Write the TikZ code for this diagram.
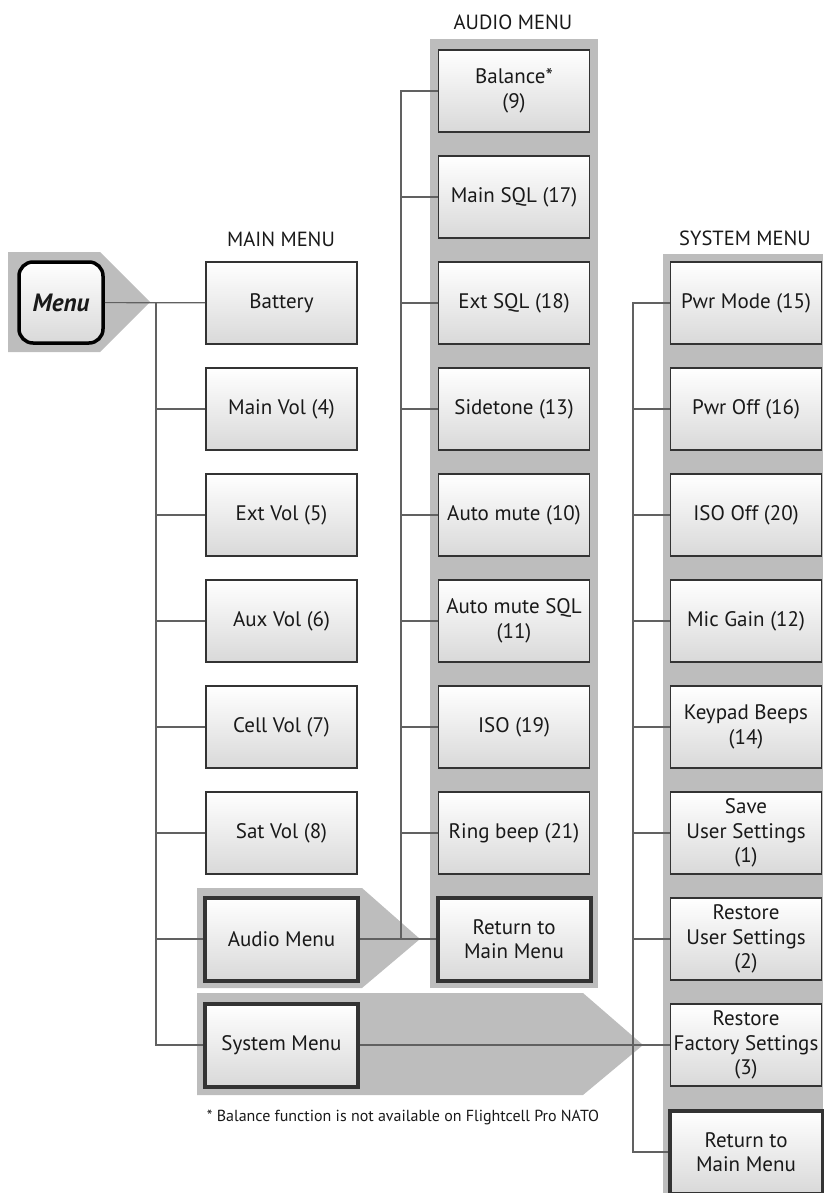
\documentclass[tikz,border=0pt]{standalone}
\usepackage{fontspec}
\setmainfont{PT Sans}
\usepackage{tikz}

\begin{document}
\begin{tikzpicture}
  [x=1pt,y=-1pt,
   every node/.style={font=\fontsize{21}{24.5}\selectfont, text=black!90, align=center, inner sep=0pt},
   item/.style={draw=black!80, line width=1.8pt, top color=white, bottom color=black!15,
     minimum width=151pt, minimum height=82pt},
   sub/.style={item, line width=4pt, minimum width=153pt, minimum height=83pt},
   back/.style={fill=black!26},
   conn/.style={draw=black!62, line width=1.2pt},
   title/.style={font=\fontsize{20.5}{22}\selectfont}]
  \useasboundingbox (0,0) rectangle (823,1193);

  % grey backgrounds and arrows
  \fill[back] (8,252) -- (100,252) -- (150,302) -- (100,352) -- (8,352) -- cycle;
  \fill[back] (430,39) rectangle (598,988);
  \fill[back] (663,254) rectangle (823,1193);
  \fill[back] (197,888) -- (362,888) -- (420,939) -- (362,988) -- (197,988) -- cycle;
  \fill[back] (197,993) -- (583,993) -- (643,1045) -- (583,1095) -- (197,1095) -- cycle;

  \node[draw=black, line width=3.5pt, rounded corners=14pt, top color=white, bottom color=black!15,
    minimum width=84pt, minimum height=81pt, font=\fontsize{25}{28}\selectfont\bfseries\itshape] (menu) at (61,302.5) {Menu};

  \node[title] (mtitle) at (281,239) {MAIN MENU};
   \node[item] (bat) at (281.5,303) {Battery};
   \node[item] (mvol) at (281.5,409) {Main Vol (4)};
   \node[item] (evol) at (281.5,515) {Ext Vol (5)};
   \node[item] (avol) at (281.5,621) {Aux Vol (6)};
   \node[item] (cvol) at (281.5,727) {Cell Vol (7)};
   \node[item] (svol) at (281.5,833) {Sat Vol (8)};
   \node[sub] (audm) at (281.5,939) {Audio Menu};
   \node[sub] (sysm) at (281.5,1045) {System Menu};

  \node[title] (atitle) at (513,22) {AUDIO MENU};
   \node[item] (bal) at (514,91) {Balance*\\(9)};
   \node[item] (msql) at (514,197) {Main SQL (17)};
   \node[item] (esql) at (514,303) {Ext SQL (18)};
   \node[item] (side) at (514,409) {Sidetone (13)};
   \node[item] (amute) at (514,515) {Auto mute (10)};
   \node[item] (asql) at (514,621) {Auto mute SQL\\(11)};
   \node[item] (iso) at (514,727) {ISO (19)};
   \node[item] (ring) at (514,833) {Ring beep (21)};
   \node[sub] (aret) at (514,939) {Return to\\Main Menu};

  \node[title] (stitle) at (745,238) {SYSTEM MENU};
   \node[item] (pmode) at (746,303) {Pwr Mode (15)};
   \node[item] (poff) at (746,409) {Pwr Off (16)};
   \node[item] (isooff) at (746,515) {ISO Off (20)};
   \node[item] (mic) at (746,621) {Mic Gain (12)};
   \node[item] (keyp) at (746,727) {Keypad Beeps\\(14)};
   \node[item] (save) at (746,833) {Save\\User Settings\\(1)};
   \node[item] (ruser) at (746,939) {Restore\\User Settings\\(2)};
   \node[item] (sfac) at (746,1045) {Restore\\Factory Settings\\(3)};
   \node[sub] (sret) at (746,1152) {Return to\\Main Menu};

  \node[font=\fontsize{16}{18}\selectfont] (note) at (403,1117) {* Balance function is not available on Flightcell Pro NATO};

  \coordinate (mbus) at (156,303);
  \coordinate (abus) at (401,939);
  \coordinate (sbus) at (633,1045);

  \foreach \from/\to in {menu/bat, audm/aret, sysm/sfac}
      \draw[conn] (\from) -- (\to);
  \foreach \to in {mvol, evol, avol, cvol, svol, audm, sysm}
      \draw[conn] (mbus) |- (\to.west);
  \foreach \to in {bal, msql, esql, side, amute, asql, iso, ring}
      \draw[conn] (abus) |- (\to.west);
  \foreach \to in {pmode, poff, isooff, mic, keyp, save, ruser, sret}
      \draw[conn] (sbus) |- (\to.west);
\end{tikzpicture}
\end{document}
